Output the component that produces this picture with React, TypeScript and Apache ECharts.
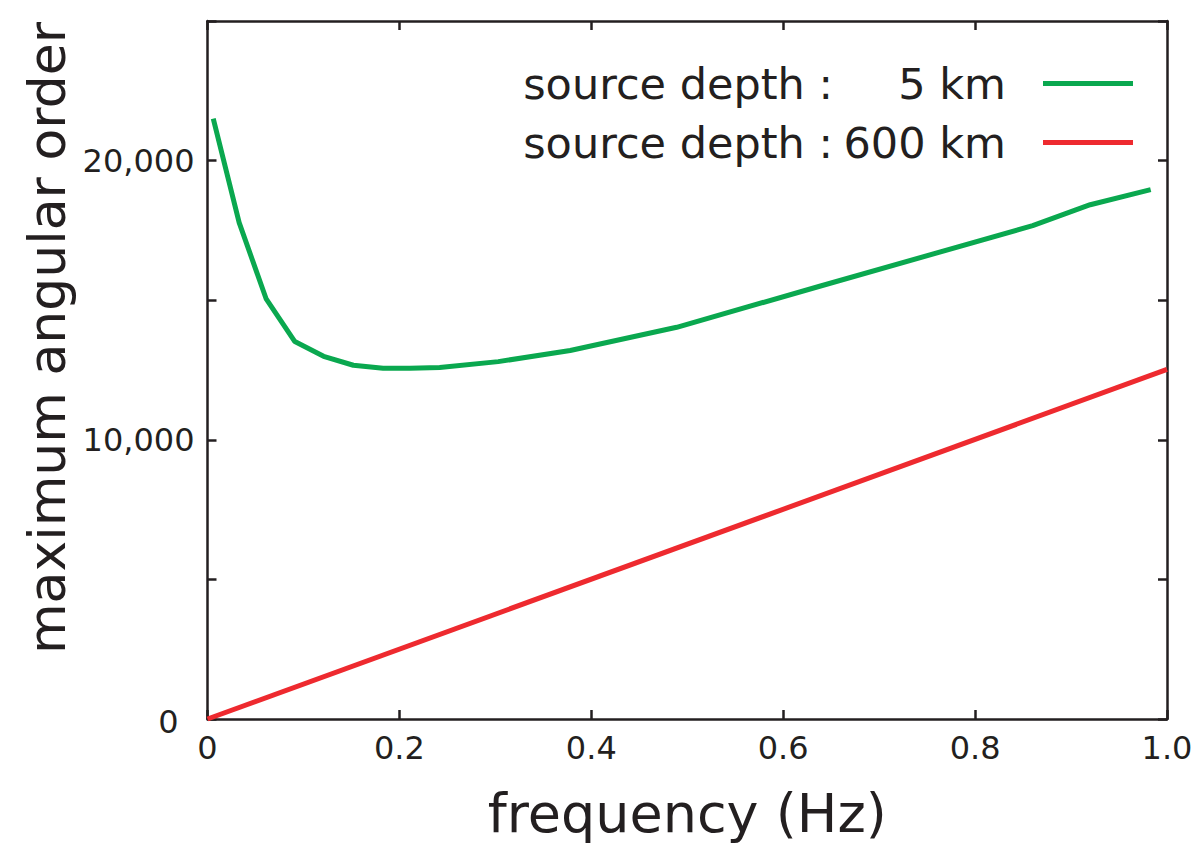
import React, { useEffect, useRef } from "react";
import * as echarts from "echarts";

const greenFreq = [0.006, 0.033, 0.061, 0.091, 0.121, 0.152, 0.183, 0.211, 0.242, 0.303, 0.378, 0.489, 0.638, 0.86, 0.92, 0.983];
const greenOrder = [21500, 17780, 15060, 13520, 12990, 12670, 12560, 12560, 12590, 12800, 13200, 14030, 15500, 17670, 18420, 18960];
const redFreq = [0, 1.0];
const redOrder = [0, 12520];
const seriesNames = ["source depth :     5 km", "source depth : 600 km"];
const legendParts = [["source depth :", "5 km"], ["source depth :", "600 km"]];
const yLabelValues = [0, 10000, 20000];

const FONT = "'DejaVu Sans', sans-serif";
const AX = "#231F20";

export default function App() {
  const ref = useRef<HTMLDivElement>(null);
  useEffect(() => {
    if (!ref.current) return;
    const chart = echarts.init(ref.current, null, { renderer: "svg" });
    const tickStyle = { show: true, inside: true, length: 9, lineStyle: { color: AX, width: 2.5 } };
    const lineStyle = { show: true, onZero: false, lineStyle: { color: AX, width: 2.5 } };
    chart.setOption({
      animation: false,
      backgroundColor: "#fff",
      textStyle: { fontFamily: FONT },
      grid: { left: 207.5, right: 31, top: 21, bottom: 134, containLabel: false },
      legend: {
        orient: "vertical",
        align: "right",
        right: 60,
        top: 57,
        itemWidth: 90,
        itemHeight: 5,
        itemGap: 16,
        icon: "rect",
        data: seriesNames,
        selectedMode: false,
        formatter: (name: string) => {
          const i = seriesNames.indexOf(name);
          return `{a|${legendParts[i][0]}}{b|${legendParts[i][1]}}`;
        },
        textStyle: {
          fontFamily: FONT,
          fontSize: 43,
          color: AX,
          padding: [0, 32, 0, 0],
          rich: {
            a: { fontFamily: FONT, fontSize: 43, lineHeight: 46, color: AX },
            b: { fontFamily: FONT, fontSize: 43, lineHeight: 46, color: AX, width: 173, align: "right" },
          },
        },
      },
      xAxis: [
        {
          type: "value",
          min: 0,
          max: 1,
          interval: 0.2,
          position: "bottom",
          axisLine: lineStyle,
          axisTick: tickStyle,
          splitLine: { show: false },
          axisLabel: {
            margin: 13,
            fontSize: 32,
            color: AX,
            fontFamily: FONT,
            formatter: (v: number) => (v === 0 ? "0" : v.toFixed(1)),
          },
          name: "frequency (Hz)",
          nameLocation: "middle",
          nameGap: 67,
          nameTextStyle: { fontSize: 54, color: AX, fontFamily: FONT },
        },
        {
          type: "value",
          min: 0,
          max: 1,
          interval: 0.2,
          position: "top",
          axisLine: lineStyle,
          axisTick: tickStyle,
          axisLabel: { show: false },
          splitLine: { show: false },
        },
      ],
      yAxis: [
        {
          type: "value",
          min: 0,
          max: 25000,
          interval: 5000,
          position: "left",
          axisLine: lineStyle,
          axisTick: tickStyle,
          splitLine: { show: false },
          axisLabel: {
            margin: 13,
            fontSize: 32,
            color: AX,
            fontFamily: FONT,
            formatter: (v: number) => {
              if (!yLabelValues.includes(v)) return "";
              if (v === 0) return "{z|0}";
              return v.toLocaleString("en-US");
            },
            rich: { z: { fontSize: 32, color: AX, fontFamily: FONT, padding: [6, 16, 0, 0] } },
          },
        },
        {
          type: "value",
          min: 0,
          max: 25000,
          interval: 5000,
          position: "right",
          axisLine: lineStyle,
          axisTick: tickStyle,
          axisLabel: { show: false },
          splitLine: { show: false },
        },
      ],
      graphic: [
        {
          type: "text",
          x: 47,
          y: 338,
          rotation: Math.PI / 2,
          style: {
            text: "maximum angular order",
            fontSize: 52,
            fontFamily: FONT,
            fill: AX,
            textAlign: "center",
            textVerticalAlign: "middle",
          },
        },
      ],
      series: [
        {
          name: seriesNames[0],
          type: "line",
          symbol: "none",
          data: greenFreq.map((f, i) => [f, greenOrder[i]]),
          lineStyle: { color: "#0AA84F", width: 5 },
          itemStyle: { color: "#0AA84F" },
        },
        {
          name: seriesNames[1],
          type: "line",
          symbol: "none",
          data: redFreq.map((f, i) => [f, redOrder[i]]),
          lineStyle: { color: "#EE2A2F", width: 5 },
          itemStyle: { color: "#EE2A2F" },
        },
      ],
    });
    return () => chart.dispose();
  }, []);
  return <div ref={ref} style={{ position: "absolute", left: 0, top: 0, width: 1198, height: 853 }} />;
}
